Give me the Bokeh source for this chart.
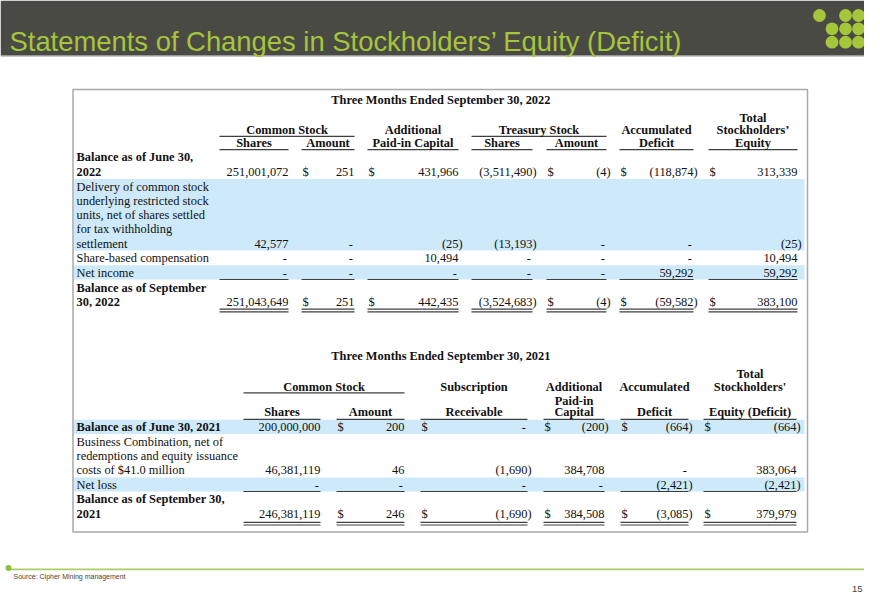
from bokeh.plotting import figure
from bokeh.models import Range1d, ColumnDataSource
from bokeh.core.properties import value
from bokeh.embed import file_html
from bokeh.resources import INLINE

# ------------------------------------------------------------------ data
slide_title = "Statements of Changes in Stockholders\u2019 Equity (Deficit)"
source_note = "Source: Cipher Mining management"
page_number = "15"

# --- Table 1: three months ended September 30, 2022
t1_title = "Three Months Ended September 30, 2022"
t1_groups = ["Common Stock", "Treasury Stock"]
t1_group_spans = [(0, 1), (3, 4)]
t1_col_heads = [
    ["", "", "Shares"],
    ["", "", "Amount"],
    ["", "Additional", "Paid-in Capital"],
    ["", "", "Shares"],
    ["", "", "Amount"],
    ["", "Accumulated", "Deficit"],
    ["Total", "Stockholders\u2019", "Equity"],
]
t1_row_labels = [
    ["Balance as of June 30,", "2022"],
    ["Delivery of common stock", "underlying restricted stock",
     "units, net of shares settled", "for tax withholding", "settlement"],
    ["Share-based compensation"],
    ["Net income"],
    ["Balance as of September", "30, 2022"],
]
t1_bold_rows = [True, False, False, False, True]
t1_common_shares = [251001072, 42577, 0, 0, 251043649]
t1_common_amount = [251, 0, 0, 0, 251]
t1_apic = [431966, -25, 10494, 0, 442435]
t1_treasury_shares = [-3511490, -13193, 0, 0, -3524683]
t1_treasury_amount = [-4, 0, 0, 0, -4]
t1_accumulated_deficit = [-118874, 0, 0, 59292, -59582]
t1_total_equity = [313339, -25, 10494, 59292, 383100]

# --- Table 2: three months ended September 30, 2021
t2_title = "Three Months Ended September 30, 2021"
t2_groups = ["Common Stock"]
t2_group_spans = [(0, 1)]
t2_col_heads = [
    ["", "", "", "Shares"],
    ["", "", "", "Amount"],
    ["", "Subscription", "", "Receivable"],
    ["", "Additional", "Paid-in", "Capital"],
    ["", "Accumulated", "", "Deficit"],
    ["Total", "Stockholders'", "", "Equity (Deficit)"],
]
t2_row_labels = [
    ["Balance as of June 30, 2021"],
    ["Business Combination, net of", "redemptions and equity issuance",
     "costs of $41.0 million"],
    ["Net loss"],
    ["Balance as of September 30,", "2021"],
]
t2_bold_rows = [True, False, False, True]
t2_common_shares = [200000000, 46381119, 0, 246381119]
t2_common_amount = [200, 46, 0, 246]
t2_subscription_receivable = [0, -1690, 0, -1690]
t2_apic = [-200, 384708, 0, 384508]
t2_accumulated_deficit = [-664, 0, -2421, -3085]
t2_total_equity = [-664, 383064, -2421, 379979]

# ------------------------------------------------------------------ layout
W, H = 864, 593
SERIF = "Liberation Serif"
SANS = "Liberation Sans"
BODY = "12.4px"
INK = "#111111"
BLUE = "#cde9fa"
RULE = "#3f3f3f"

T1 = dict(
    title_x=440.5, title_y=99,
    head_levels=[117.3, 129.5, 142.8], group_level=1, group_ul=135.9, head_ul=149.2,
    cols=[(219, 288), (301, 354), (367, 458), (471, 532), (546, 606), (619, 693), (708, 797)],
    dollar=[False, True, True, False, True, True, True],
    row_lines=[[156.6, 171.6], [186, 200.3, 214.6, 228.9, 243.2], [257.7], [272.2], [287.2, 301.6]],
    blue=[(178.5, 250), (264.8, 279)],
    single_ul=279, double_ul=(308.6, 311.4),
)
T2 = dict(
    title_x=440.5, title_y=355,
    head_levels=[373.3, 386.8, 400, 411.8], group_level=1, group_ul=392.4, head_ul=418.8,
    cols=[(243, 320), (336, 404), (420, 527), (543, 604), (620, 688), (703, 796)],
    dollar=[False, True, True, True, True, True],
    row_lines=[[426], [441.3, 455.5, 469.8], [484.3], [498.6, 513.3]],
    blue=[(419.3, 433.6), (477, 491)],
    single_ul=491, double_ul=(521.8, 524.5),
)
LABEL_X = 76
BOX = (72.5, 807, 89, 531.5)
BLUE_X = (73.5, 804)

# ------------------------------------------------------------------ figure
p = figure(width=W, height=H, x_range=Range1d(0, W), y_range=Range1d(H, 0),
           output_backend="svg", toolbar_location=None, min_border=0,
           x_axis_location=None, y_axis_location=None)
p.grid.grid_line_color = None
p.outline_line_color = None
p.background_fill_color = "white"
p.border_fill_color = "white"

texts = {}


def put(x, y, s, align="left", bold=False, font=SERIF, size=BODY, color=INK, baseline="middle"):
    key = (font, size, "bold" if bold else "normal", color, align, baseline)
    d = texts.setdefault(key, {"x": [], "y": [], "t": []})
    d["x"].append(x)
    d["y"].append(y)
    d["t"].append(s)


segs = {"x0": [], "x1": [], "y0": [], "y1": []}


def hline(a, b, y):
    segs["x0"].append(a)
    segs["x1"].append(b)
    segs["y0"].append(y)
    segs["y1"].append(y)


bands = {"l": [], "r": [], "t": [], "b": []}


def fmt_put(v, a, b, y):
    if v == 0:
        put(b - 1.5, y, "-", "right")
    elif v < 0:
        put(b + 4.1, y, "({:,})".format(-v), "right")
    else:
        put(b, y, "{:,}".format(v), "right")


def draw_table(L, title, col_heads, groups, spans, labels, bold_rows, columns):
    put(L["title_x"], L["title_y"], title, "center", True)
    for j, heads in enumerate(col_heads):
        a, b = L["cols"][j]
        for lvl, s in enumerate(heads):
            if s:
                put((a + b) / 2, L["head_levels"][lvl], s, "center", True)
        hline(a, b, L["head_ul"])
    for g, (j0, j1) in zip(groups, spans):
        a, b = L["cols"][j0][0], L["cols"][j1][1]
        put((a + b) / 2, L["head_levels"][L["group_level"]], g, "center", True)
        hline(a, b, L["group_ul"])
    for (t, bt) in L["blue"]:
        bands["l"].append(BLUE_X[0]); bands["r"].append(BLUE_X[1])
        bands["t"].append(t); bands["b"].append(bt)
    n = len(labels)
    for i, lines in enumerate(labels):
        for k, s in enumerate(lines):
            put(LABEL_X, L["row_lines"][i][k], s, "left", bold_rows[i])
        vy = L["row_lines"][i][-1]
        for j, col in enumerate(columns):
            a, b = L["cols"][j]
            fmt_put(col[i], a, b, vy)
            if L["dollar"][j] and i in (0, n - 1):
                put(a + 1, vy, "$", "left")
    for (a, b) in L["cols"]:
        hline(a, b, L["single_ul"])
        hline(a, b, L["double_ul"][0])
        hline(a, b, L["double_ul"][1])


draw_table(T1, t1_title, t1_col_heads, t1_groups, t1_group_spans, t1_row_labels, t1_bold_rows,
           [t1_common_shares, t1_common_amount, t1_apic, t1_treasury_shares,
            t1_treasury_amount, t1_accumulated_deficit, t1_total_equity])
draw_table(T2, t2_title, t2_col_heads, t2_groups, t2_group_spans, t2_row_labels, t2_bold_rows,
           [t2_common_shares, t2_common_amount, t2_subscription_receivable, t2_apic,
            t2_accumulated_deficit, t2_total_equity])

# header band
p.quad(left=[0], right=[W], top=[0], bottom=[55], fill_color="#4a4a45", line_color=None)
p.segment(x0=[0], x1=[W], y0=[55.5], y1=[55.5], line_color="#8d8d86", line_width=1)
# logo
logo_x = [819, 845, 858, 831.5, 845, 858, 831.5, 845, 858]
logo_y = [15, 15, 15, 28.3, 28.3, 28.3, 41.7, 41.7, 41.7]
p.circle(x=logo_x, y=logo_y, radius=6.4, fill_color="#a5c63a", line_color=None)
put(9, 41, slide_title, "left", False, SANS, "27.4px", "#a6c43c", "alphabetic")

# table frame and bands
p.quad(left="l", right="r", top="t", bottom="b", source=ColumnDataSource(bands),
       fill_color=BLUE, line_color=None)
p.quad(left=[BOX[0]], right=[BOX[1]], top=[BOX[2]], bottom=[BOX[3]],
       fill_color=None, line_color="#a9a9a9", line_width=1.5)
p.segment(x0="x0", x1="x1", y0="y0", y1="y1", source=ColumnDataSource(segs),
          line_color=RULE, line_width=1.2)

# footer
p.segment(x0=[8], x1=[W], y0=[568.8], y1=[568.8], line_color="#a8ce68", line_width=1.8)
p.circle(x=[8], y=[567.5], radius=3, fill_color="#8fbf3f", line_color=None)
put(13, 576, source_note, "left", False, SANS, "7px", "#444444")
put(862, 588, page_number, "right", False, SANS, "9.5px", "#444444")

for (font, size, style, color, align, baseline), d in texts.items():
    p.text(x="x", y="y", text="t", source=ColumnDataSource(d),
           text_font=value(font), text_font_size=size, text_font_style=style,
           text_color=color, text_align=align, text_baseline=baseline)

open("out.html", "w").write(file_html(p, INLINE))
